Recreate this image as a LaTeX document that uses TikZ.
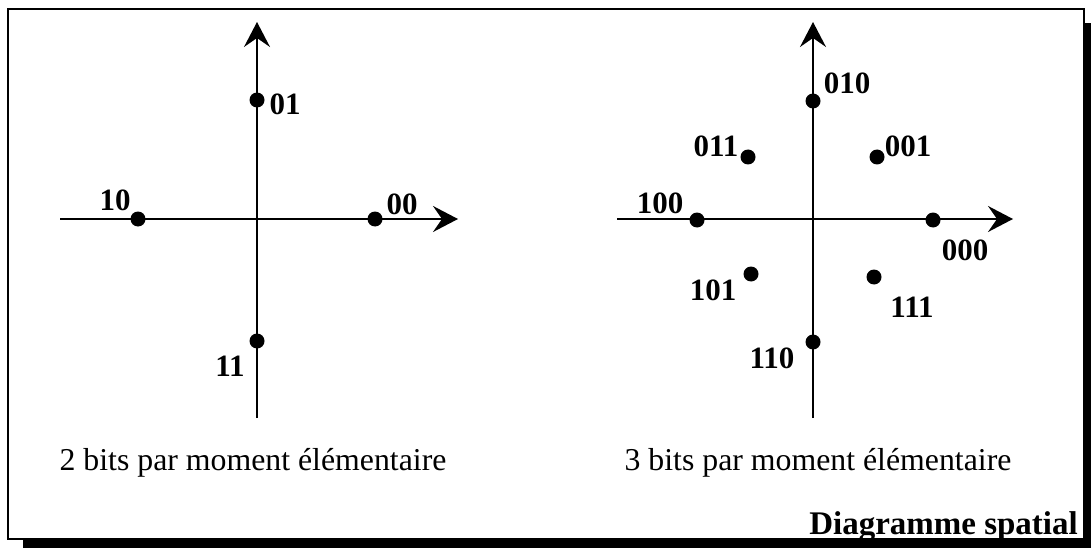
\documentclass[tikz,border=0pt]{standalone}
\usepackage{fontspec}
\setmainfont{Liberation Serif}
\usetikzlibrary{arrows.meta}
\begin{document}
\begin{tikzpicture}[x=1pt,y=-1pt,
  axis/.style={line width=1.8pt,-{Stealth[length=25pt,width=26pt,inset=9pt]}},
  dot/.style={circle,fill=black,inner sep=0pt,minimum size=15pt},
  lbl/.style={inner sep=0pt,font=\fontsize{31}{31}\selectfont\bfseries,text depth=0pt},
  captxt/.style={inner sep=0pt,font=\fontsize{31.8}{34}\selectfont},
  titletxt/.style={inner sep=0pt,font=\fontsize{33}{35}\selectfont\bfseries,anchor=base east}]
\useasboundingbox (0,0) rectangle (1091,548);
% shadow and frame
\fill[black] (23,23) rectangle (1095,552);
\draw[line width=1.5pt,fill=white] (8,9) rectangle (1084,539);
% left diagram
\coordinate (L-W) at (60,219);
\coordinate (L-E) at (458,219);
\coordinate (L-S) at (257,418);
\coordinate (L-N) at (257,22);
\draw[axis] (L-W) -- (L-E);
\draw[axis] (L-S) -- (L-N);
\node[dot] (d01) at (257,100) {};
\node[dot] (d00) at (375,219) {};
\node[dot] (d10) at (138,219) {};
\node[dot] (d11) at (257,341) {};
\node[lbl] (t01) at (285,104) {01};
\node[lbl] (t00) at (402,204) {00};
\node[lbl] (t10) at (115,200) {10};
\node[lbl] (t11) at (230,366) {11};
\node[captxt] (c2) at (253,463) {2 bits par moment élémentaire};
% right diagram
\coordinate (R-W) at (617,219);
\coordinate (R-E) at (1013,219);
\coordinate (R-S) at (813,418);
\coordinate (R-N) at (813,22);
\draw[axis] (R-W) -- (R-E);
\draw[axis] (R-S) -- (R-N);
\node[dot] (d010) at (813,101) {};
\node[dot] (d011) at (748,157) {};
\node[dot] (d001) at (877,157) {};
\node[dot] (d100) at (697,220) {};
\node[dot] (d000) at (933,220) {};
\node[dot] (d101) at (751,274) {};
\node[dot] (d111) at (874,277) {};
\node[dot] (d110) at (813,342) {};
\node[lbl] (t010) at (847,83) {010};
\node[lbl] (t001) at (908,146) {001};
\node[lbl] (t011) at (716,146) {011};
\node[lbl] (t100) at (660,203) {100};
\node[lbl] (t000) at (965,250) {000};
\node[lbl] (t101) at (713,290) {101};
\node[lbl] (t111) at (912,307) {111};
\node[lbl] (t110) at (772,358) {110};
\node[captxt] (c3) at (818,463) {3 bits par moment élémentaire};
\node[titletxt] (title) at (1078,534) {Diagramme spatial};
\end{tikzpicture}
\end{document}
